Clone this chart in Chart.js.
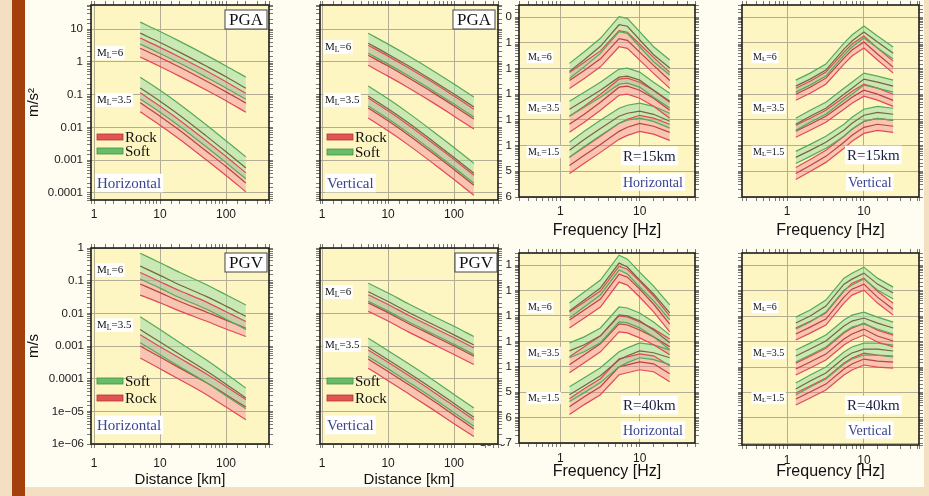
<!DOCTYPE html>
<html>
<head>
<meta charset="utf-8">
<script src="https://cdn.jsdelivr.net/npm/chart.js@4/dist/chart.umd.min.js"></script>
<style>
  html, body { margin: 0; padding: 0; }
  body { width: 929px; height: 496px; position: relative; overflow: hidden; background: #f3e0c3; }
  #bar { position: absolute; left: 12px; top: 0; width: 13px; height: 496px; background: #a4400e; }
  #sheet { position: absolute; left: 25px; top: 0; width: 899px; height: 487px; background: #fffcf2; }
  canvas { position: absolute; }
</style>
</head>
<body>
<div id="bar"></div>
<div id="sheet"></div>
<script>
// ---- axes values ----
const distKm = [5, 10, 20, 50, 100, 200];
const freqHz = [1.3, 2, 3.2, 5.5, 7, 10, 15, 24];
const xDecades = [0, 1, 2];
const xTickLabels = ['1', '10', '100'];
const yDecades = [1, 0, -1, -2, -3, -4, -5, -6, -7];
const yTickLabels = ['10', '1', '0.1', '0.01', '0.001', '0.0001', '1e\u221205', '1e\u221206', '1e\u221207'];

// ---- each band: [upper, median, lower] ----
// PGA horizontal
const pgaH_M6_soft = [[16.2, 8.4, 4.2, 1.6, 0.75, 0.34], [7.5, 3.9, 1.94, 0.74, 0.35, 0.156], [3.5, 1.8, 0.9, 0.34, 0.16, 0.072]];
const pgaH_M6_rock = [[5.3, 2.75, 1.38, 0.53, 0.245, 0.11], [2.6, 1.36, 0.68, 0.26, 0.121, 0.055], [1.4, 0.72, 0.36, 0.138, 0.065, 0.029]];
const pgaH_M35_soft = [[0.34, 0.135, 0.05, 0.012, 0.0039, 0.00126], [0.16, 0.0625, 0.023, 0.0055, 0.0018, 0.00058], [0.074, 0.029, 0.0106, 0.00256, 0.00084, 0.00027]];
const pgaH_M35_rock = [[0.113, 0.044, 0.0163, 0.0039, 0.0013, 0.00041], [0.056, 0.022, 0.008, 0.0019, 0.00064, 0.0002], [0.03, 0.0117, 0.0043, 0.00103, 0.00034, 0.000108]];
// PGA vertical
const pgaV_M6_soft = [[7.4, 3.46, 1.56, 0.51, 0.21, 0.084], [3.67, 1.71, 0.77, 0.25, 0.104, 0.042], [1.82, 0.85, 0.38, 0.125, 0.0515, 0.0207]];
const pgaV_M6_rock = [[3.19, 1.49, 0.67, 0.22, 0.09, 0.036], [1.58, 0.74, 0.33, 0.109, 0.045, 0.018], [0.78, 0.366, 0.165, 0.054, 0.022, 0.0089]];
const pgaV_M35_soft = [[0.183, 0.0743, 0.0282, 0.00713, 0.00243, 0.0008], [0.0906, 0.0368, 0.014, 0.00353, 0.0012, 0.000397], [0.0449, 0.0182, 0.00692, 0.00175, 0.000597, 0.000197]];
const pgaV_M35_rock = [[0.0787, 0.032, 0.0121, 0.00307, 0.00105, 0.000345], [0.039, 0.0158, 0.006, 0.00152, 0.000519, 0.000171], [0.0193, 0.00785, 0.00298, 0.000753, 0.000257, 0.0000847]];
// PGV horizontal
const pgvH_M6_soft = [[0.69, 0.355, 0.178, 0.076, 0.037, 0.018], [0.28, 0.145, 0.074, 0.033, 0.0166, 0.0081], [0.112, 0.059, 0.03, 0.0135, 0.0066, 0.0032]];
const pgvH_M6_rock = [[0.178, 0.093, 0.049, 0.0224, 0.0112, 0.0056], [0.079, 0.043, 0.023, 0.011, 0.0062, 0.0035], [0.036, 0.021, 0.0117, 0.0058, 0.0033, 0.00195]];
const pgvH_M35_soft = [[0.0079, 0.0032, 0.00126, 0.00038, 0.000141, 0.0000513], [0.0032, 0.00132, 0.00055, 0.000174, 0.0000676, 0.0000257], [0.00126, 0.00054, 0.00023, 0.000076, 0.00003, 0.000012]];
const pgvH_M35_rock = [[0.0022, 0.00095, 0.00042, 0.000141, 0.0000575, 0.0000229], [0.001, 0.00046, 0.00021, 0.000076, 0.0000324, 0.0000135], [0.00043, 0.0002, 0.000093, 0.000033, 0.0000135, 0.0000055]];
// PGV vertical
const pgvV_M6_soft = [[0.083, 0.042, 0.02, 0.0079, 0.004, 0.00195], [0.0457, 0.0229, 0.011, 0.00437, 0.00219, 0.00107], [0.0234, 0.0117, 0.0056, 0.00224, 0.00112, 0.00055]];
const pgvV_M6_rock = [[0.037, 0.0186, 0.0089, 0.00355, 0.00178, 0.00087], [0.0209, 0.0105, 0.005, 0.002, 0.001, 0.00049], [0.0115, 0.0058, 0.00275, 0.0011, 0.00055, 0.00027]];
const pgvV_M35_soft = [[0.00174, 0.00072, 0.000295, 0.000087, 0.000033, 0.0000126], [0.00091, 0.00038, 0.000155, 0.0000457, 0.0000174, 0.0000066], [0.00048, 0.0002, 0.000081, 0.000024, 0.0000091, 0.0000035]];
const pgvV_M35_rock = [[0.00076, 0.000316, 0.000129, 0.000038, 0.0000145, 0.0000055], [0.0004, 0.000166, 0.0000676, 0.00002, 0.0000076, 0.0000029], [0.00021, 0.000087, 0.0000355, 0.0000107, 0.0000042, 0.0000017]];
// spectra horizontal, R=15km
const sh15_M6_soft = [[0.16, 0.45, 1.51, 10.5, 9.1, 2.74, 0.71, 0.215], [0.078, 0.22, 0.74, 5.1, 4.45, 1.33, 0.346, 0.105], [0.0415, 0.117, 0.393, 2.73, 2.37, 0.71, 0.185, 0.056]];
const sh15_M6_rock = [[0.071, 0.175, 0.49, 3.0, 2.6, 0.91, 0.274, 0.071], [0.0346, 0.085, 0.24, 1.46, 1.26, 0.44, 0.133, 0.0346], [0.0169, 0.0414, 0.117, 0.71, 0.615, 0.215, 0.065, 0.0169]];
const sh15_M35_soft = [[0.0054, 0.0121, 0.0297, 0.0955, 0.105, 0.073, 0.0297, 0.011], [0.0026, 0.0059, 0.0145, 0.0465, 0.051, 0.0355, 0.0145, 0.0054], [0.0014, 0.0031, 0.0077, 0.0248, 0.0273, 0.019, 0.0077, 0.0029]];
const sh15_M35_rock = [[0.0014, 0.0034, 0.0101, 0.0388, 0.0426, 0.0295, 0.0143, 0.0049], [0.00068, 0.00166, 0.0049, 0.0189, 0.0207, 0.0144, 0.007, 0.0024], [0.00033, 0.00081, 0.0024, 0.0092, 0.0101, 0.007, 0.0034, 0.00116]];
const sh15_M15_soft = [[0.000135, 0.00036, 0.00097, 0.00286, 0.00375, 0.0045, 0.0034, 0.00183], [0.0000657, 0.000175, 0.00047, 0.00139, 0.00183, 0.00219, 0.00166, 0.00089], [0.0000351, 0.0000936, 0.00025, 0.00074, 0.00098, 0.00117, 0.00088, 0.00048]];
const sh15_M15_rock = [[0.000035, 0.000086, 0.000231, 0.00074, 0.00106, 0.00152, 0.00118, 0.00068], [0.000017, 0.0000418, 0.000112, 0.00036, 0.00052, 0.00074, 0.00057, 0.00033], [0.0000083, 0.0000204, 0.0000547, 0.000176, 0.000252, 0.00036, 0.00028, 0.000161]];
// spectra vertical, R=15km
const sv15_M6_soft = [[0.0356, 0.0667, 0.15, 0.99, 2.04, 4.57, 1.86, 0.69], [0.0208, 0.0389, 0.0875, 0.577, 1.19, 2.66, 1.08, 0.4], [0.0121, 0.0227, 0.051, 0.337, 0.69, 1.55, 0.63, 0.235]];
const sv15_M6_rock = [[0.0173, 0.0323, 0.073, 0.44, 0.905, 1.85, 0.63, 0.196], [0.0101, 0.0189, 0.0425, 0.257, 0.53, 1.08, 0.369, 0.114], [0.0059, 0.011, 0.0248, 0.15, 0.308, 0.63, 0.215, 0.0667]];
const sv15_M35_soft = [[0.00116, 0.00239, 0.0049, 0.0173, 0.0297, 0.0667, 0.0509, 0.0356], [0.000676, 0.00139, 0.00286, 0.0101, 0.0173, 0.0389, 0.0297, 0.0208], [0.000394, 0.00081, 0.00167, 0.0059, 0.0101, 0.0227, 0.0173, 0.0121]];
const sv15_M35_rock = [[0.00062, 0.00116, 0.00238, 0.0077, 0.0132, 0.0247, 0.0173, 0.01], [0.000362, 0.00068, 0.00139, 0.0045, 0.0077, 0.0144, 0.0101, 0.0058], [0.000211, 0.000396, 0.00081, 0.00262, 0.0045, 0.0084, 0.0059, 0.0034]];
const sv15_M15_soft = [[0.0000598, 0.000112, 0.000231, 0.00068, 0.00127, 0.00262, 0.0034, 0.00286], [0.0000349, 0.0000653, 0.000135, 0.000396, 0.00074, 0.00153, 0.00198, 0.00167], [0.0000203, 0.0000381, 0.0000785, 0.000231, 0.000432, 0.00089, 0.00116, 0.00097]];
const sv15_M15_rock = [[0.0000142, 0.0000291, 0.0000656, 0.000231, 0.000432, 0.00088, 0.00116, 0.00097], [0.0000083, 0.000017, 0.0000382, 0.000135, 0.000252, 0.000515, 0.00068, 0.00057], [0.00000483, 0.0000099, 0.0000223, 0.0000785, 0.000147, 0.0003, 0.000396, 0.00033]];
// spectra horizontal, R=40km
const sh40_M6_soft = [[0.0324, 0.0873, 0.258, 2.47, 1.72, 0.531, 0.15, 0.027], [0.0158, 0.0425, 0.126, 1.2, 0.84, 0.259, 0.073, 0.0131], [0.0084, 0.0227, 0.067, 0.64, 0.447, 0.138, 0.039, 0.007]];
const sh40_M6_rock = [[0.0143, 0.0352, 0.095, 0.91, 0.69, 0.235, 0.061, 0.01], [0.0069, 0.0171, 0.046, 0.44, 0.336, 0.114, 0.0295, 0.0048], [0.00338, 0.00835, 0.0225, 0.215, 0.164, 0.0556, 0.0144, 0.00236]];
const sh40_M35_soft = [[0.00087, 0.0015, 0.00338, 0.0225, 0.0206, 0.0131, 0.00582, 0.0018], [0.000424, 0.00073, 0.00165, 0.011, 0.01, 0.0064, 0.00283, 0.00088], [0.000226, 0.00039, 0.00088, 0.00585, 0.00536, 0.0034, 0.00151, 0.00047]];
const sh40_M35_rock = [[0.000246, 0.00061, 0.00164, 0.01, 0.0091, 0.0058, 0.0031, 0.00125], [0.000119, 0.000295, 0.0008, 0.00484, 0.0044, 0.0028, 0.0015, 0.00061], [0.0000582, 0.000144, 0.000388, 0.00236, 0.00215, 0.00137, 0.00073, 0.000296]];
const sh40_M15_soft = [[0.0000164, 0.000037, 0.0000914, 0.000388, 0.000556, 0.00087, 0.00073, 0.000464], [0.000008, 0.000018, 0.0000445, 0.000189, 0.000271, 0.000424, 0.000356, 0.000226], [0.00000426, 0.0000096, 0.0000238, 0.000101, 0.000145, 0.000226, 0.00019, 0.000121]];
const sh40_M15_rock = [[0.00000553, 0.0000137, 0.0000337, 0.000205, 0.000246, 0.000322, 0.000269, 0.000109], [0.00000269, 0.00000664, 0.0000164, 0.0000994, 0.000119, 0.000156, 0.000131, 0.0000529], [0.00000131, 0.00000324, 0.00000798, 0.0000485, 0.0000582, 0.0000762, 0.0000637, 0.0000258]];
// spectra vertical, R=40km
const sv40_M6_soft = [[0.00914, 0.0172, 0.0424, 0.309, 0.485, 0.835, 0.309, 0.137], [0.00533, 0.01, 0.0247, 0.18, 0.283, 0.487, 0.18, 0.08], [0.0031, 0.00585, 0.0144, 0.105, 0.165, 0.284, 0.105, 0.0466]];
const sv40_M6_rock = [[0.00338, 0.0063, 0.0131, 0.095, 0.196, 0.309, 0.095, 0.032], [0.00197, 0.00369, 0.0076, 0.0556, 0.114, 0.18, 0.0556, 0.0187], [0.00115, 0.00215, 0.00444, 0.0324, 0.0667, 0.105, 0.0324, 0.0109]];
const sv40_M35_soft = [[0.000464, 0.00087, 0.0018, 0.00697, 0.0109, 0.0144, 0.00914, 0.00582], [0.00027, 0.000507, 0.00105, 0.00406, 0.00636, 0.0084, 0.00533, 0.0034], [0.000158, 0.000296, 0.00061, 0.00237, 0.0037, 0.0049, 0.0031, 0.00198]];
const sv40_M35_rock = [[0.000143, 0.000269, 0.00055, 0.00215, 0.00338, 0.0053, 0.00282, 0.00179], [0.0000832, 0.000157, 0.000322, 0.00125, 0.00197, 0.00309, 0.00165, 0.00105], [0.0000485, 0.0000914, 0.000188, 0.00073, 0.00115, 0.0018, 0.00096, 0.00061]];
const sv40_M15_soft = [[0.0000236, 0.0000485, 0.0001, 0.000388, 0.00061, 0.00087, 0.00087, 0.00073], [0.0000138, 0.0000283, 0.0000583, 0.000226, 0.000356, 0.000507, 0.000507, 0.000426], [0.000008, 0.0000165, 0.000034, 0.000132, 0.000207, 0.000296, 0.000296, 0.000248]];
const sv40_M15_rock = [[0.00000953, 0.0000179, 0.0000368, 0.000143, 0.000224, 0.000353, 0.000294, 0.000269], [0.00000556, 0.0000104, 0.0000214, 0.0000832, 0.000131, 0.000206, 0.000172, 0.000157], [0.00000324, 0.00000608, 0.0000125, 0.0000485, 0.0000762, 0.00012, 0.0001, 0.0000914]];

// ---- styling ----
const sheetColor = '#fffcf2';
const panelColor = '#fdf5c2';
const gridColor = '#b3ae93';
const tickColor = '#7a7a70';
const softFill = 'rgba(140, 218, 165, 0.45)';
const rockFill = 'rgba(242, 115, 150, 0.38)';
const softEdge = '#56ab56';
const softMid = '#76683a';
const rockEdge = '#e24a52';
const rockMid = '#b4473c';
const serif = '"Liberation Serif", "Times New Roman", serif';

Chart.defaults.font.family = '"Liberation Sans", Arial, sans-serif';
Chart.defaults.color = '#1a1a1a';

const panels = [
  { frame: [91, 5, 269, 200], x: distKm, xr: [0.9, 448], yr: [6.1e-5, 54], wy: 69, hx: 25, padR: 8, z: 1,
    yLabels: true, yTitle: 'm/s\u00b2', xTitle: '', xPad: 3, yPad: 4, smooth: true,
    bands: [[pgaH_M6_soft, pgaH_M6_rock], [pgaH_M35_soft, pgaH_M35_rock]],
    notes: { box: { text: 'PGA', right: 2, top: 5 }, mlSize: 11, mls: [['6', 6, 48], ['3.5', 6, 95]],
      legend: { x: 6, rows: [['Rock', 132, 'rock'], ['Soft', 146, 'soft']] },
      comp: { text: 'Horizontal', x: 6, y: 178, size: 15 } } },
  { frame: [320, 5, 498, 200], x: distKm, xr: [0.93, 464], yr: [6.1e-5, 54], wy: 20, hx: 25, padR: 4, z: 2, cover: true,
    yLabels: false, xTitle: '', xPad: 3, yPad: 4, smooth: true,
    bands: [[pgaV_M6_soft, pgaV_M6_rock], [pgaV_M35_soft, pgaV_M35_rock]],
    notes: { box: { text: 'PGA', right: 3, top: 5 }, mlSize: 11, mls: [['6', 5, 42], ['3.5', 5, 95]],
      legend: { x: 7, rows: [['Rock', 132, 'rock'], ['Soft', 147, 'soft']] },
      comp: { text: 'Vertical', x: 7, y: 178, size: 15 } } },
  { frame: [519, 5, 695, 197], x: freqHz, xr: [0.3, 50], yr: [1e-6, 30], wy: 50, hx: 43, padR: 8, z: 1,
    yLabels: true, xTitle: 'Frequency [Hz]', xPad: 3, yPad: 3, smooth: false,
    bands: [[sh15_M6_soft, sh15_M6_rock], [sh15_M35_soft, sh15_M35_rock], [sh15_M15_soft, sh15_M15_rock]],
    notes: { mlSize: 10, mls: [['6', 9, 52], ['3.5', 9, 103], ['1.5', 9, 147]],
      rlabel: { text: 'R=15km', x: 104, y: 151, size: 15 }, comp: { text: 'Horizontal', x: 104, y: 177, size: 14 } } },
  { frame: [742, 5, 919, 197], x: freqHz, xr: [0.26, 52], yr: [1e-6, 30], wy: 10, hx: 43, padR: 6, z: 1,
    yLabels: false, xTitle: 'Frequency [Hz]', xPad: 3, yPad: 3, smooth: false,
    bands: [[sv15_M6_soft, sv15_M6_rock], [sv15_M35_soft, sv15_M35_rock], [sv15_M15_soft, sv15_M15_rock]],
    notes: { mlSize: 10, mls: [['6', 11, 52], ['3.5', 11, 103], ['1.5', 11, 147]],
      rlabel: { text: 'R=15km', x: 105, y: 150, size: 15 }, comp: { text: 'Vertical', x: 106, y: 177, size: 14 } } },
  { frame: [91, 248, 269, 444], x: distKm, xr: [0.9, 448], yr: [1e-6, 1], wy: 69, hx: 45, padR: 8, z: 1,
    yLabels: true, yTitle: 'm/s', xTitle: 'Distance [km]', xTitleSize: 15, xPad: 8, yPad: 3, smooth: true,
    bands: [[pgvH_M6_soft, pgvH_M6_rock], [pgvH_M35_soft, pgvH_M35_rock]],
    notes: { box: { text: 'PGV', right: 2, top: 5 }, mlSize: 11, mls: [['6', 6, 22], ['3.5', 6, 77]],
      legend: { x: 6, rows: [['Soft', 133, 'soft'], ['Rock', 150, 'rock']] },
      comp: { text: 'Horizontal', x: 6, y: 177, size: 15 } } },
  { frame: [320, 248, 498, 444], x: distKm, xr: [0.93, 464], yr: [1e-6, 1], wy: 20, hx: 45, padR: 4, z: 2, cover: true,
    yLabels: false, xTitle: 'Distance [km]', xTitleSize: 15, xPad: 8, yPad: 3, smooth: true,
    bands: [[pgvV_M6_soft, pgvV_M6_rock], [pgvV_M35_soft, pgvV_M35_rock]],
    notes: { box: { text: 'PGV', right: 1, top: 5 }, mlSize: 11, mls: [['6', 5, 44], ['3.5', 5, 97]],
      legend: { x: 7, rows: [['Soft', 133, 'soft'], ['Rock', 150, 'rock']] },
      comp: { text: 'Vertical', x: 7, y: 177, size: 15 } } },
  { frame: [519, 253, 695, 443], x: freqHz, xr: [0.3, 50], yr: [1e-7, 3], wy: 50, hx: 38, padR: 8, z: 1,
    yLabels: true, xTitle: 'Frequency [Hz]', xPad: 4, yPad: 3, smooth: false,
    bands: [[sh40_M6_soft, sh40_M6_rock], [sh40_M35_soft, sh40_M35_rock], [sh40_M15_soft, sh40_M15_rock]],
    notes: { mlSize: 10, mls: [['6', 9, 54], ['3.5', 9, 100], ['1.5', 9, 145]],
      rlabel: { text: 'R=40km', x: 104, y: 152, size: 15 }, comp: { text: 'Horizontal', x: 104, y: 177, size: 14 } } },
  { frame: [742, 253, 919, 445], x: freqHz, xr: [0.26, 52], yr: [8.7e-8, 3], wy: 10, hx: 36, padR: 6, z: 1,
    yLabels: false, xTitle: 'Frequency [Hz]', xPad: 4, yPad: 3, smooth: false,
    bands: [[sv40_M6_soft, sv40_M6_rock], [sv40_M35_soft, sv40_M35_rock], [sv40_M15_soft, sv40_M15_rock]],
    notes: { mlSize: 10, mls: [['6', 11, 54], ['3.5', 11, 100], ['1.5', 11, 145]],
      rlabel: { text: 'R=40km', x: 105, y: 152, size: 15 }, comp: { text: 'Vertical', x: 106, y: 177, size: 14 } } },
];

function isDecade(v) {
  const e = Math.log10(v);
  return Math.abs(e - Math.round(e)) < 1e-6;
}
function decadeLabel(v, decs, labels) {
  if (!isDecade(v)) return '';
  const i = decs.indexOf(Math.round(Math.log10(v)));
  return i < 0 ? '' : labels[i];
}

function bandSets(xs, soft, rock, smooth) {
  const pts = arr => arr.map((v, i) => ({ x: xs[i], y: v }));
  const line = (arr, color, extra) => Object.assign({
    data: pts(arr), borderColor: color, borderWidth: 1.2, pointRadius: 0, fill: false,
    tension: 0, cubicInterpolationMode: smooth ? 'monotone' : 'default'
  }, extra || {});
  return [
    line(soft[0], softEdge, { fill: '+2', backgroundColor: softFill }),
    line(soft[1], softMid),
    line(soft[2], softEdge),
    line(rock[0], rockEdge, { fill: '+2', backgroundColor: rockFill }),
    line(rock[1], rockMid),
    line(rock[2], rockEdge),
  ];
}

function drawML(ctx, x, y, mag, size) {
  const big = size + 'px ' + serif;
  const small = (size * 0.7).toFixed(1) + 'px ' + serif;
  ctx.font = big;
  const wM = ctx.measureText('M').width, wR = ctx.measureText('=' + mag).width;
  ctx.font = small;
  const wL = ctx.measureText('L').width;
  ctx.fillStyle = '#ffffff';
  ctx.fillRect(x - 1.5, y - size * 0.62, wM + wL + wR + 3, size * 1.24);
  ctx.fillStyle = '#111';
  ctx.textAlign = 'left';
  ctx.textBaseline = 'middle';
  ctx.font = big; ctx.fillText('M', x, y);
  ctx.font = small; ctx.fillText('L', x + wM, y + size * 0.25);
  ctx.font = big; ctx.fillText('=' + mag, x + wM + wL, y);
}

function labelBox(ctx, text, x, y, size, color) {
  ctx.font = size + 'px ' + serif;
  const w = ctx.measureText(text).width;
  ctx.fillStyle = '#ffffff';
  ctx.fillRect(x - 2, y - size * 0.62, w + 4, size * 1.24);
  ctx.fillStyle = color;
  ctx.textAlign = 'left';
  ctx.textBaseline = 'middle';
  ctx.fillText(text, x, y + 1);
}

function makeDecor(p) {
  return {
    id: 'decor',
    beforeDraw(chart) {
      const { ctx, chartArea: a } = chart;
      ctx.save();
      if (p.cover) {
        ctx.fillStyle = sheetColor;
        ctx.fillRect(a.right, a.top, chart.width - a.right, a.bottom - a.top);
      }
      ctx.fillStyle = panelColor;
      ctx.fillRect(a.left, a.top, a.right - a.left, a.bottom - a.top);
      ctx.restore();
    },
    afterDraw(chart) {
      const { ctx, chartArea: a } = chart;
      const n = p.notes;
      ctx.save();
      ctx.strokeStyle = '#1d1d1d';
      ctx.lineWidth = 1.6;
      ctx.strokeRect(a.left, a.top, a.right - a.left, a.bottom - a.top);
      if (n.box) {
        ctx.font = '17px ' + serif;
        const w = ctx.measureText(n.box.text).width + 8, h = 19;
        const x = a.right - n.box.right - w, y = a.top + n.box.top;
        ctx.fillStyle = '#ffffff'; ctx.fillRect(x, y, w, h);
        ctx.strokeStyle = '#444'; ctx.lineWidth = 1; ctx.strokeRect(x, y, w, h);
        ctx.fillStyle = '#111'; ctx.textAlign = 'center'; ctx.textBaseline = 'middle';
        ctx.fillText(n.box.text, x + w / 2, y + h / 2 + 1);
      }
      n.mls.forEach(([m, dx, dy]) => drawML(ctx, a.left + dx, a.top + dy, m, n.mlSize));
      if (n.legend) {
        n.legend.rows.forEach(([label, dy, kind]) => {
          const x = a.left + n.legend.x, y = a.top + dy;
          ctx.fillStyle = kind === 'soft' ? '#69bd69' : '#e25454';
          ctx.fillRect(x, y - 3, 26, 6);
          ctx.strokeStyle = kind === 'soft' ? '#3f923f' : '#b23636';
          ctx.lineWidth = 0.8;
          ctx.strokeRect(x, y - 3, 26, 6);
          ctx.font = '15px ' + serif;
          ctx.fillStyle = '#111'; ctx.textAlign = 'left'; ctx.textBaseline = 'middle';
          ctx.fillText(label, x + 28, y + 1);
        });
      }
      if (n.rlabel) labelBox(ctx, n.rlabel.text, a.left + n.rlabel.x, a.top + n.rlabel.y, n.rlabel.size, '#1b1e3c');
      labelBox(ctx, n.comp.text, a.left + n.comp.x, a.top + n.comp.y, n.comp.size, '#3b4590');
      ctx.restore();
    }
  };
}

panels.forEach(p => {
  const [L, T, R, B] = p.frame;
  const padT = 10;
  const left = L - p.wy, top = T - 4 - padT;
  const cv = document.createElement('canvas');
  cv.width = R + 4 + p.padR - left;
  cv.height = B + p.hx - top;
  cv.style.left = left + 'px';
  cv.style.top = top + 'px';
  cv.style.zIndex = p.z;
  document.body.appendChild(cv);

  const datasets = [];
  p.bands.forEach(b => datasets.push(...bandSets(p.x, b[0], b[1], p.smooth)));

  const gridLine = c => (c.tick && isDecade(c.tick.value)) ? gridColor : 'rgba(0,0,0,0)';

  new Chart(cv, {
    type: 'line',
    data: { datasets },
    options: {
      responsive: false,
      animation: false,
      devicePixelRatio: 1,
      events: [],
      layout: { padding: { top: padT, right: p.padR, left: 0, bottom: 0 } },
      plugins: {
        legend: { display: false },
        tooltip: { enabled: false },
        filler: { drawTime: 'beforeDatasetsDraw' },
      },
      scales: {
        x: {
          type: 'logarithmic', position: 'bottom', min: p.xr[0], max: p.xr[1],
          afterFit: s => { s.height = p.hx; },
          border: { display: false },
          grid: { color: gridLine, tickColor: tickColor, tickLength: 4, lineWidth: 1 },
          ticks: { autoSkip: false, maxRotation: 0, padding: p.xPad, font: { size: 12 }, color: '#1a1a1a',
                   callback: v => decadeLabel(v, xDecades, xTickLabels) },
          title: { display: !!p.xTitle, text: p.xTitle, color: '#111',
                   font: { size: p.xTitleSize || 16 }, padding: { top: 0, bottom: 0 } },
        },
        y: {
          type: 'logarithmic', position: 'left', min: p.yr[0], max: p.yr[1],
          afterFit: s => { s.width = p.wy; },
          border: { display: false },
          grid: { color: gridLine, tickColor: tickColor, tickLength: 4, lineWidth: 1 },
          ticks: { display: p.yLabels, autoSkip: false, padding: p.yPad, font: { size: 11.5 }, color: '#1a1a1a',
                   callback: v => decadeLabel(v, yDecades, yTickLabels) },
          title: { display: !!p.yTitle, text: p.yTitle || '', color: '#111',
                   font: { size: 15 }, padding: { top: 3, bottom: 0 } },
        },
        x2: {
          type: 'logarithmic', position: 'top', min: p.xr[0], max: p.xr[1],
          afterFit: s => { s.height = 4; },
          border: { display: false },
          grid: { drawOnChartArea: false, tickColor: tickColor, tickLength: 4 },
          ticks: { display: false, autoSkip: false },
        },
        y2: {
          type: 'logarithmic', position: 'right', min: p.yr[0], max: p.yr[1],
          afterFit: s => { s.width = 4; },
          border: { display: false },
          grid: { drawOnChartArea: false, tickColor: tickColor, tickLength: 4 },
          ticks: { display: false, autoSkip: false },
        },
      },
    },
    plugins: [makeDecor(p)],
  });
});
</script>
</body>
</html>
